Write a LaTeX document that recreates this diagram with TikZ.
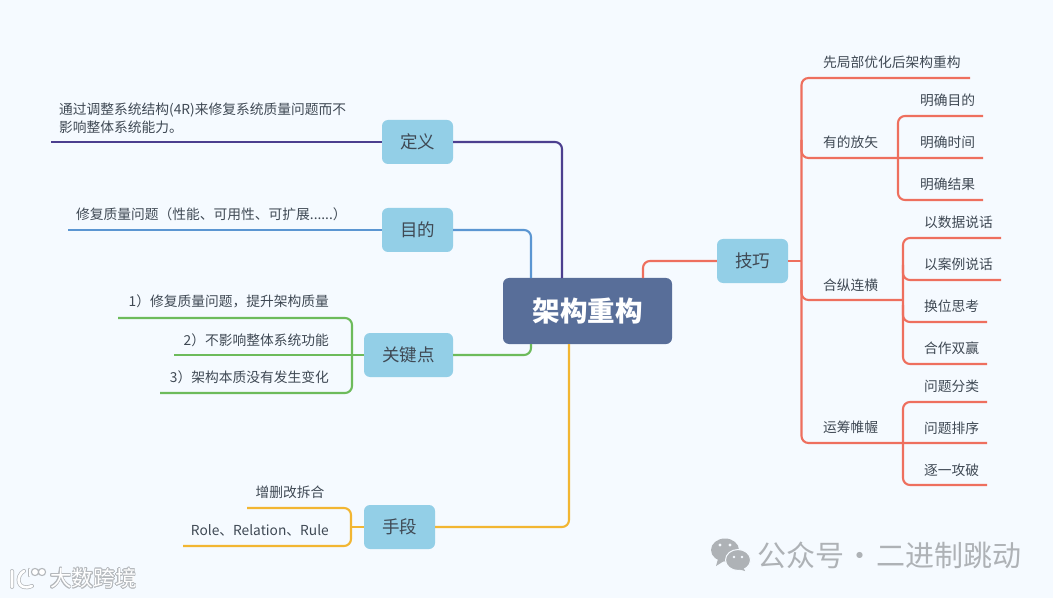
\documentclass[tikz,border=0pt]{standalone}
\usepackage{fontspec}
\usepackage{contour}
\setmainfont{Noto Sans CJK SC}
\contourlength{0.55pt}
\definecolor{pagebg}{HTML}{F5FAFF}
\definecolor{boxblue}{HTML}{93CFE7}
\definecolor{rootblue}{HTML}{586E99}
\definecolor{inkgrey}{HTML}{3F4954}
\definecolor{cpurple}{HTML}{4C3F8F}
\definecolor{cblue}{HTML}{5B96D2}
\definecolor{cgreen}{HTML}{6DBB5B}
\definecolor{corange}{HTML}{F2B632}
\definecolor{cred}{HTML}{EE6F5E}
\definecolor{wmgrey}{HTML}{AEB2B6}
\definecolor{wmhalo}{HTML}{B4B8BC}
\tikzset{
  topicbox/.style={fill=boxblue,rounded corners=6bp,inner sep=0,text=inkgrey,font=\fontsize{17.5bp}{20bp}\selectfont},
  rootbox/.style={fill=rootblue,rounded corners=6bp,inner sep=0,text=white,font=\fontsize{27.5bp}{30bp}\selectfont\bfseries,minimum width=169bp,minimum height=66bp},
  leaf/.style={inner sep=0,text=inkgrey,font=\fontsize{13.75bp}{18bp}\selectfont,align=left},
  branch/.style={line width=2.1bp,rounded corners=7bp,line cap=butt},
  wm/.style={inner sep=0,text=wmgrey,font=\fontsize{29bp}{32bp}\selectfont},
}
\begin{document}
\begin{tikzpicture}[x=1bp,y=-1bp]
\useasboundingbox[fill=pagebg] (0,0) rectangle (1053,598);
% root and topics
\node[rootbox] (root) at (587.5,311) {架构重构};
\node[topicbox,minimum width=71bp,minimum height=44bp] (def) at (417.5,142) {定义};
\node[topicbox,minimum width=71bp,minimum height=44bp] (aim) at (417.5,230) {目的};
\node[topicbox,minimum width=89bp,minimum height=44bp] (key) at (408.5,355) {关键点};
\node[topicbox,minimum width=71bp,minimum height=44bp] (means) at (399.5,527) {手段};
\node[topicbox,minimum width=71bp,minimum height=44bp] (skill) at (752.5,261) {技巧};
% anchor points on the root
\coordinate (rA) at (562,278);
\coordinate (rB) at (531,278);
\coordinate (rC) at (531,344);
\coordinate (rD) at (569,344);
\coordinate (rE) at (643,278);
% left leaves
\node[leaf,anchor=west] (t1) at (59,118) {通过调整系统结构(4R)来修复系统质量问题而不\\影响整体系统能力。};
\node[leaf,anchor=west] (t2) at (76,214) {修复质量问题（性能、可用性、可扩展......）};
\node[leaf,anchor=east] (t3) at (329,301) {1）修复质量问题，提升架构质量};
\node[leaf,anchor=east] (t4) at (329,340) {2）不影响整体系统功能};
\node[leaf,anchor=east] (t5) at (329,377) {3）架构本质没有发生变化};
\node[leaf,anchor=center] (t6) at (290,492) {增删改拆合};
\node[leaf,anchor=east] (t7) at (329,530) {Role、Relation、Rule};
% right leaves
\node[leaf,anchor=west] (r1) at (823,62) {先局部优化后架构重构};
\node[leaf,anchor=west] (r2) at (823,142) {有的放矢};
\node[leaf,anchor=west] (r3) at (920,100) {明确目的};
\node[leaf,anchor=west] (r4) at (920,142) {明确时间};
\node[leaf,anchor=west] (r5) at (920,184) {明确结果};
\node[leaf,anchor=west] (r6) at (823,285) {合纵连横};
\node[leaf,anchor=west] (r7) at (924,222) {以数据说话};
\node[leaf,anchor=west] (r8) at (924,264) {以案例说话};
\node[leaf,anchor=west] (r9) at (924,306) {换位思考};
\node[leaf,anchor=west] (r10) at (924,348) {合作双赢};
\node[leaf,anchor=west] (r11) at (823,427) {运筹帷幄};
\node[leaf,anchor=west] (r12) at (924,386) {问题分类};
\node[leaf,anchor=west] (r13) at (924,428) {问题排序};
\node[leaf,anchor=west] (r14) at (924,470) {逐一攻破};
% free ends
\coordinate (eDef) at (51,142);
\coordinate (eAim) at (68,230);
\coordinate (eK1) at (118,318);
\coordinate (eK2) at (174,355);
\coordinate (eK3) at (160,393);
\coordinate (eM1) at (247,508);
\coordinate (eM2) at (183,546);
\coordinate (eTop) at (970,78);
\coordinate (eLast) at (987,443);
\coordinate (eMid) at (983,158);
% main branches
\draw[branch,cpurple] (def.east) -- (562,142) -- (rA);
\draw[branch,cpurple] (def.west) -- (eDef);
\draw[branch,cblue] (aim.east) -- (531,230) -- (rB);
\draw[branch,cblue] (aim.west) -- (eAim);
\draw[branch,cgreen] (key.east) -- (531,355) -- (rC);
\draw[branch,cgreen] (eK1) -- (352,318) -- (352,393) -- (eK3);
\draw[branch,cgreen] (key.west) -- (eK2);
\draw[branch,corange] (means.east) -- (569,527) -- (rD);
\draw[branch,corange] (eM1) -- (351,508) -- (351,546) -- (eM2);
\draw[branch,corange] (means.west) -- (351,527);
\draw[branch,cred] (rE) -- (643,261) -- (skill.west);
\draw[branch,cred] (skill.east) -- (801,261);
\draw[branch,cred] (eTop) -- (801.5,78) -- (801.5,443) -- (eLast);
\draw[branch,cred] (801.5,140) -- (801.5,158) -- (eMid);
\draw[branch,cred] (801.5,280) -- (801.5,300) -- (903,300);
% second-level brackets
\draw[branch,cred] (983,116) -- (898,116) -- (898,200) -- (983,200);
\draw[branch,cred] (1001,238) -- (903,238) -- (903,364) -- (987,364);
\draw[branch,cred] (903,265) -- (903,280) -- (1001,280);
\draw[branch,cred] (903,305) -- (903,322) -- (987,322);
\draw[branch,cred] (987,402) -- (903,402) -- (903,485) -- (987,485);
% watermark right
\node[wm,anchor=west] (wmR) at (757,555) {公众号\kern1.5bp·\kern1.5bp二进制跳动};
\fill[wmgrey] (725,550) ellipse [x radius=14,y radius=11.5];
\fill[wmgrey] (718,559) -- (716,566) -- (724,561) -- cycle;
\filldraw[wmgrey,draw=pagebg,line width=1bp] (738,560) ellipse [x radius=12.5,y radius=10.5];
\fill[wmgrey] (743,567) -- (745,571) -- (738,569) -- cycle;
\fill[pagebg] (720,545) circle (1.6) (730,545) circle (1.6) (734,557) circle (1.3) (742,557) circle (1.3);
% watermark left
\node[inner sep=0,anchor=west,font=\fontsize{21.7bp}{24bp}\selectfont] (wmL) at (50,578.5) {\contour{wmhalo}{\textcolor{white}{大数跨境}}};
\foreach \c/\w in {wmhalo/4,white/2.6}{
  \draw[\c,line width=\w bp,line cap=round] (12,571) -- (12,587) (24,571) .. controls (15,576) and (17,592) .. (32,586);
}
\draw[wmhalo,line width=2.2bp,line cap=round] (29,569) -- (29,576);
\draw[white,line width=1bp,line cap=round] (29,569) -- (29,576);
\draw[wmhalo,line width=1.1bp,fill=white] (35,572) circle (3.6) (42,572) circle (3.6);
\end{tikzpicture}
\end{document}
